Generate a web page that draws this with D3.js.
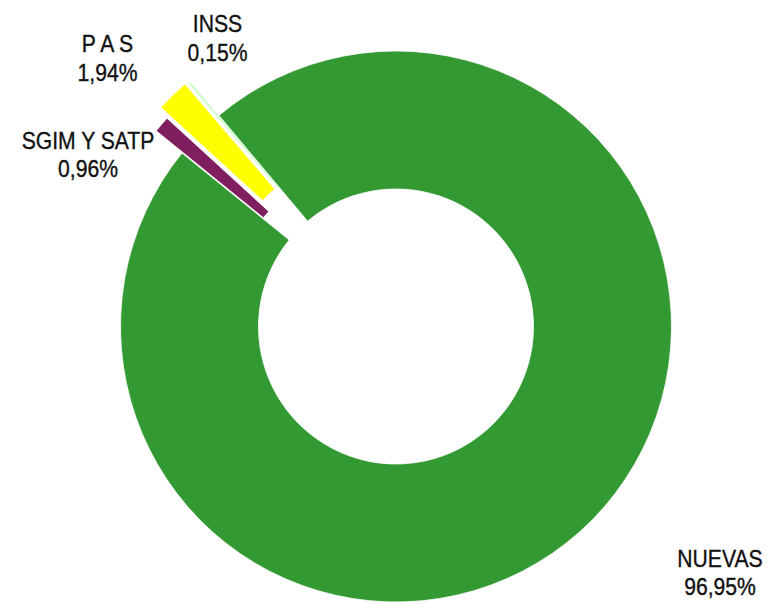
<!DOCTYPE html>
<html lang="es">
<head>
<meta charset="utf-8">
<title>Distribución</title>
<script src="https://d3js.org/d3.v7.min.js"></script>
<style>
  body { margin: 0; background: #fff; }
  .lbl { font-family: "Liberation Sans", Arial, sans-serif; font-size: 23.5px; fill: #111; stroke: #111; stroke-width: 0.35px; }
</style>
</head>
<body>
<div id="chart"></div>
<script>
// data
var categories = ["NUEVAS", "SGIM Y SATP", "P A S", "INSS"];
var values = [96.95, 0.96, 1.94, 0.15];
var valueLabels = ["96,95%", "0,96%", "1,94%", "0,15%"];
var colors = ["#339933", "#801f5f", "#ffff00", "#ccffcc"];

// layout
var width = 780, height = 604;
var cx = 396, cy = 326.5;
var outerR = 275.5, innerR = 137.5;
var explode = [0, 34, 46, 44];
// label block anchors relative to centre (x centre, first baseline)
var labelPos = [[324, 240], [-308, -178], [-288.5, -274.5], [-178.5, -294.5]];

var svg = d3.select("#chart").append("svg")
    .attr("width", width)
    .attr("height", height);

var g = svg.append("g").attr("transform", "translate(" + cx + "," + cy + ")");

var start = -40 * Math.PI / 180;
var pie = d3.pie().sort(null).startAngle(start).endAngle(start + 2 * Math.PI);
var arc = d3.arc().innerRadius(innerR).outerRadius(outerR);

var arcs = pie(values);

g.selectAll("path.slice")
    .data(arcs)
    .enter().append("path")
    .attr("class", "slice")
    .attr("d", arc)
    .attr("fill", function(d, i) { return colors[i]; })
    .attr("stroke", "#fff")
    .attr("stroke-width", function(d, i) { return i === 3 ? 0.3 : 0.8; })
    .attr("transform", function(d, i) {
        var a = (d.startAngle + d.endAngle) / 2;
        return "translate(" + (explode[i] * Math.sin(a)) + "," + (-explode[i] * Math.cos(a)) + ")";
    });

// labels, squeezed horizontally to look like a narrow face
var labels = g.selectAll("g.label")
    .data(categories)
    .enter().append("g")
    .attr("class", "label")
    .attr("transform", function(d, i) {
        return "translate(" + labelPos[i][0] + "," + labelPos[i][1] + ") scale(0.9,1)";
    });

var txt = labels.append("text")
    .attr("class", "lbl")
    .attr("text-anchor", "middle");

txt.append("tspan")
    .attr("x", 0)
    .text(function(d) { return d; });

txt.append("tspan")
    .attr("x", 0)
    .attr("dy", 29)
    .text(function(d, i) { return valueLabels[i]; });
</script>
</body>
</html>
